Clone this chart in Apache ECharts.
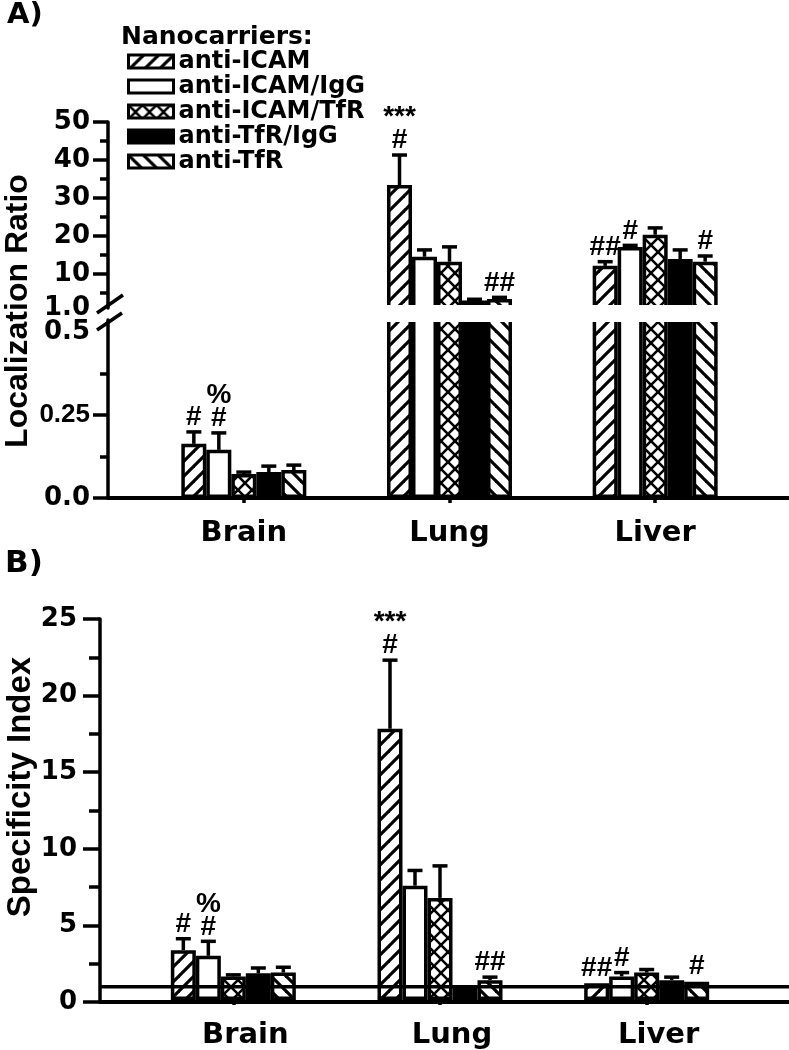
<!DOCTYPE html>
<html><head><meta charset="utf-8">
<script src="https://cdn.jsdelivr.net/npm/echarts@6/dist/echarts.min.js"></script>
<style>html,body{margin:0;padding:0;background:#fff}#c{width:789px;height:1050px}</style>
</head><body><div id="c"></div>
<script>
// ---------------- DATA ----------------
const categories = ['Brain', 'Lung', 'Liver'];
const carriers = ['anti-ICAM', 'anti-ICAM/IgG', 'anti-ICAM/TfR', 'anti-TfR/IgG', 'anti-TfR'];

// Panel A: Localization Ratio (mean) per carrier for Brain, Lung, Liver
const loc_antiICAM     = [0.163, 33.4, 12.1];
const loc_antiICAM_IgG = [0.145, 14.5, 17.1];
const loc_antiICAM_TfR = [0.072, 13.2, 20.3];
const loc_antiTfR_IgG  = [0.078, 3.0, 13.9];
const loc_antiTfR      = [0.084, 3.4, 13.2];
// Panel A: upper error (SEM)
const locErr_antiICAM     = [0.036, 7.9, 1.1];
const locErr_antiICAM_IgG = [0.051, 1.8, 0.4];
const locErr_antiICAM_TfR = [0.006, 3.9, 1.8];
const locErr_antiTfR_IgG  = [0.018, 0.3, 2.4];
const locErr_antiTfR      = [0.015, 0.4, 1.5];
// Panel A: significance marks
const locNote_antiICAM     = ['#', '***\n#', '##'];
const locNote_antiICAM_IgG = ['%\n#', '', '#'];
const locNote_antiICAM_TfR = ['', '', ''];
const locNote_antiTfR_IgG  = ['', '', ''];
const locNote_antiTfR      = ['', '##', '#'];

// Panel B: Specificity Index (mean)
const spec_antiICAM     = [3.27, 17.8, 1.1];
const spec_antiICAM_IgG = [2.9, 7.5, 1.55];
const spec_antiICAM_TfR = [1.55, 6.7, 1.8];
const spec_antiTfR_IgG  = [1.75, 0.9, 1.3];
const spec_antiTfR      = [1.8, 1.3, 1.2];
const specErr_antiICAM     = [0.75, 4.5, 0.05];
const specErr_antiICAM_IgG = [0.95, 1.0, 0.25];
const specErr_antiICAM_TfR = [0.1, 2.1, 0.2];
const specErr_antiTfR_IgG  = [0.35, 0.05, 0.2];
const specErr_antiTfR      = [0.35, 0.2, 0.05];
const specNote_antiICAM     = ['#', '***\n#', '##'];
const specNote_antiICAM_IgG = ['%\n#', '', '#'];
const specNote_antiICAM_TfR = ['', '', ''];
const specNote_antiTfR_IgG  = ['', '', ''];
const specNote_antiTfR      = ['', '##', '#'];
const specRefLine = 1;

// Axis scales / ticks
const locUpperRange = [1, 50];
const locUpperTicks = [10, 20, 30, 40, 50];
const locUpperMinorTicks = [5, 15, 25, 35, 45];
const locUpperLabels = [1, 10, 20, 30, 40, 50];
const locLowerRange = [0, 0.536];
const locLowerTicks = [0, 0.25];
const locLowerMinorTicks = [0.125, 0.375];
const locLowerLabels = [0, 0.25, 0.5];
const specRange = [0, 25];
const specInterval = 5;

// ---------------- LAYOUT / STYLE ----------------
const W = 789;
const BAR_W = 25;
const A_AXIS_LEFT = 108, A_BAR_LEFT = 141, A_BAR_RIGHT = 31;
const A_UP_TOP = 122, A_UP_BOTTOM = 308, A_LO_TOP = 320, A_LO_BOTTOM = 498;
const B_AXIS_LEFT = 100, B_BAR_LEFT = 130, B_BAR_RIGHT = 39, B_TOP = 619, B_BOTTOM = 1002;
const FONT = 'DejaVu Sans';

function makePattern(kind) {
  const s = kind === 'cross' ? 14 : 15;
  const c = document.createElement('canvas'); c.width = s; c.height = s;
  const g = c.getContext('2d');
  g.fillStyle = '#fff'; g.fillRect(0, 0, s, s);
  g.strokeStyle = '#000'; g.lineWidth = kind === 'cross' ? 2.6 : 3.2;
  for (const o of [-s, 0, s]) {
    if (kind === 'fwd' || kind === 'cross') { g.beginPath(); g.moveTo(o - 2, s + 2); g.lineTo(o + s + 2, -2); g.stroke(); }
    if (kind === 'back' || kind === 'cross') { g.beginPath(); g.moveTo(o - 2, -2); g.lineTo(o + s + 2, s + 2); g.stroke(); }
  }
  return { image: c, repeat: 'repeat' };
}
const fills = [makePattern('fwd'), '#ffffff', makePattern('cross'), '#000000', makePattern('back')];

const locMeans = [loc_antiICAM, loc_antiICAM_IgG, loc_antiICAM_TfR, loc_antiTfR_IgG, loc_antiTfR];
const locErrs = [locErr_antiICAM, locErr_antiICAM_IgG, locErr_antiICAM_TfR, locErr_antiTfR_IgG, locErr_antiTfR];
const locNotes = [locNote_antiICAM, locNote_antiICAM_IgG, locNote_antiICAM_TfR, locNote_antiTfR_IgG, locNote_antiTfR];
const specMeans = [spec_antiICAM, spec_antiICAM_IgG, spec_antiICAM_TfR, spec_antiTfR_IgG, spec_antiTfR];
const specErrs = [specErr_antiICAM, specErr_antiICAM_IgG, specErr_antiICAM_TfR, specErr_antiTfR_IgG, specErr_antiTfR];
const specNotes = [specNote_antiICAM, specNote_antiICAM_IgG, specNote_antiICAM_TfR, specNote_antiTfR_IgG, specNote_antiTfR];

const tickLabelStyle = { fontFamily: FONT, fontWeight: 'bold', fontSize: 26, color: '#000' };
const blackLine = { color: '#000', width: 3.5 };

function hiddenValueX(grid) { return { type: 'value', gridIndex: grid, min: 0, max: 1, show: false }; }
function lineValueX(grid) {
  return { type: 'value', gridIndex: grid, min: 0, max: 1, axisLine: { show: true, onZero: false, lineStyle: { color: '#000', width: 4 } },
    axisTick: { show: false }, axisLabel: { show: false }, splitLine: { show: false } };
}
function catX(grid, showLabels, labelShift) {
  return { type: 'category', gridIndex: grid, data: categories, show: showLabels,
    axisLine: { show: false }, axisTick: { show: true, alignWithLabel: true, length: 5, lineStyle: blackLine },
    axisLabel: { fontFamily: FONT, fontWeight: 'bold', fontSize: 29, color: '#000', margin: 21,
      padding: [0, 0, 0, labelShift || 0] } };
}
function hiddenY(grid, range) { return { type: 'value', gridIndex: grid, min: range[0], max: range[1], show: false }; }

function errItems(means, errs, notes, filter) {
  const items = [];
  means.forEach((arr, k) => arr.forEach((v, c) => {
    if (filter(v)) items.push({ cat: c, k: k, mean: v, top: v + errs[k][c], note: notes[k][c] });
  }));
  return items;
}
function errSeries(xi, yi, items) {
  return {
    type: 'custom', xAxisIndex: xi, yAxisIndex: yi, z: 5, silent: true,
    data: items.map(it => [it.cat, it.k, it.mean, it.top]),
    renderItem: function (params, api) {
      const it = items[params.dataIndex];
      const b = api.coord([api.value(0), api.value(2)]);
      const t = api.coord([api.value(0), api.value(3)]);
      const x = b[0] + (api.value(1) - 2) * BAR_W;
      const ch = [];
      if (b[1] - t[1] > 1) {
        ch.push({ type: 'line', shape: { x1: x, y1: b[1], x2: x, y2: t[1] }, style: { stroke: '#000', lineWidth: 3.5 } });
        ch.push({ type: 'line', shape: { x1: x - 7.5, y1: t[1], x2: x + 7.5, y2: t[1] }, style: { stroke: '#000', lineWidth: 3.5 } });
      }
      if (it.note) {
        ch.push({ type: 'text', x: x, y: t[1] - 3, style: { text: it.note, align: 'center', verticalAlign: 'bottom',
          font: 'bold 28px "Liberation Sans"', fill: '#000', lineHeight: 23 } });
      }
      return { type: 'group', children: ch };
    }
  };
}

const series = [];
carriers.forEach((name, k) => {
  const common = { type: 'bar', name: name, barWidth: BAR_W, barGap: '0%',
    itemStyle: { color: fills[k], borderColor: '#000', borderWidth: 3.5 }, z: 2, silent: true };
  series.push(Object.assign({}, common, { xAxisIndex: 2, yAxisIndex: 4,
    data: locMeans[k].map(v => v >= locUpperRange[0] ? v : null) }));
  series.push(Object.assign({}, common, { xAxisIndex: 3, yAxisIndex: 5, data: locMeans[k].slice() }));
  series.push(Object.assign({}, common, { xAxisIndex: 5, yAxisIndex: 7, data: specMeans[k].slice() }));
});
series.push(errSeries(2, 4, errItems(locMeans, locErrs, locNotes, v => v >= locUpperRange[0])));
series.push(errSeries(3, 5, errItems(locMeans, locErrs, locNotes, v => v < locUpperRange[0])));
series.push(errSeries(5, 7, errItems(specMeans, specErrs, specNotes, v => true)));
series.push({ type: 'line', xAxisIndex: 4, yAxisIndex: 6, z: 6, silent: true, symbol: 'none',
  data: [[0, specRefLine], [1, specRefLine]], lineStyle: { color: '#000', width: 3.5 } });

const option = {
  animation: false,
  backgroundColor: '#fff',
  legend: {
    data: carriers, orient: 'vertical', left: 122, top: 44, itemWidth: 45, itemHeight: 13, itemGap: 0,
    icon: 'rect', selectedMode: false,
    itemStyle: { borderColor: '#000', borderWidth: 3 },
    textStyle: { fontFamily: FONT, fontWeight: 'bold', fontSize: 24, color: '#000', lineHeight: 25 }
  },
  grid: [
    { left: A_AXIS_LEFT, right: 0, top: A_UP_TOP, height: A_UP_BOTTOM - A_UP_TOP },
    { left: A_AXIS_LEFT, right: 0, top: A_LO_TOP, height: A_LO_BOTTOM - A_LO_TOP },
    { left: A_BAR_LEFT, right: A_BAR_RIGHT, top: A_UP_TOP, height: A_UP_BOTTOM - A_UP_TOP },
    { left: A_BAR_LEFT, right: A_BAR_RIGHT, top: A_LO_TOP, height: A_LO_BOTTOM - A_LO_TOP },
    { left: B_AXIS_LEFT, right: 0, top: B_TOP, height: B_BOTTOM - B_TOP },
    { left: B_BAR_LEFT, right: B_BAR_RIGHT, top: B_TOP, height: B_BOTTOM - B_TOP }
  ],
  xAxis: [hiddenValueX(0), lineValueX(1), catX(2, false, 0), catX(3, true, 0), lineValueX(4), catX(5, true, 24)],
  yAxis: [
    { type: 'value', gridIndex: 0, position: 'left', min: locUpperRange[0], max: locUpperRange[1],
      axisLine: { show: true, lineStyle: blackLine }, splitLine: { show: false },
      axisTick: { show: true, length: 15, lineStyle: blackLine, customValues: locUpperTicks },
      axisLabel: Object.assign({}, tickLabelStyle, { margin: 18, customValues: locUpperLabels,
        formatter: v => (v === 1 ? '1.0' : String(v)) }) },
    { type: 'value', gridIndex: 0, position: 'left', min: locUpperRange[0], max: locUpperRange[1],
      axisLine: { show: false }, splitLine: { show: false }, axisLabel: { show: false },
      axisTick: { show: true, length: 8, lineStyle: blackLine, customValues: locUpperMinorTicks } },
    { type: 'value', gridIndex: 1, position: 'left', min: locLowerRange[0], max: locLowerRange[1],
      axisLine: { show: true, lineStyle: blackLine }, splitLine: { show: false },
      axisTick: { show: true, length: 15, lineStyle: blackLine, customValues: locLowerTicks },
      axisLabel: Object.assign({}, tickLabelStyle, { margin: 18, customValues: locLowerLabels,
        formatter: v => (v === 0.25 ? '{s|0.25}' : v.toFixed(1)),
        rich: { s: { fontFamily: 'Liberation Sans', fontWeight: 'bold', fontSize: 26, color: '#000' } } }) },
    { type: 'value', gridIndex: 1, position: 'left', min: locLowerRange[0], max: locLowerRange[1],
      axisLine: { show: false }, splitLine: { show: false }, axisLabel: { show: false },
      axisTick: { show: true, length: 8, lineStyle: blackLine, customValues: locLowerMinorTicks } },
    hiddenY(2, locUpperRange),
    hiddenY(3, locLowerRange),
    { type: 'value', gridIndex: 4, position: 'left', min: specRange[0], max: specRange[1], interval: specInterval,
      axisLine: { show: true, lineStyle: blackLine }, splitLine: { show: false },
      axisTick: { show: true, length: 17, lineStyle: blackLine },
      minorTick: { show: true, splitNumber: 2, length: 11, lineStyle: blackLine },
      axisLabel: Object.assign({}, tickLabelStyle, { margin: 23 }) },
    hiddenY(5, specRange)
  ],
  series: series,
  graphic: { elements: [
    { type: 'text', left: 7, top: 1, z: 20, style: { text: 'A)', font: 'bold 29px "DejaVu Sans"', fill: '#000' } },
    { type: 'text', left: 5, top: 548, z: 20, style: { text: 'B)', font: 'bold 31px "DejaVu Sans"', fill: '#000' } },
    { type: 'text', left: 121, top: 25, z: 20, style: { text: 'Nanocarriers:', font: 'bold 25px "DejaVu Sans"', fill: '#000' } },
    { type: 'text', x: 18, y: 311, rotation: Math.PI / 2, z: 20,
      style: { text: 'Localization Ratio', font: 'bold 32px "Liberation Sans"', fill: '#000', align: 'center', verticalAlign: 'middle' } },
    { type: 'text', x: 21, y: 787, rotation: Math.PI / 2, z: 20,
      style: { text: 'Specificity Index', font: 'bold 33px "Liberation Sans"', fill: '#000', align: 'center', verticalAlign: 'middle' } },
    { type: 'rect', z: 30, shape: { x: A_AXIS_LEFT + 2, y: A_UP_BOTTOM - 3, width: W, height: (A_LO_TOP + 2) - (A_UP_BOTTOM - 3) },
      style: { fill: '#fff' } },
    { type: 'line', z: 40, shape: { x1: 97, y1: 313, x2: 123, y2: 295 }, style: { stroke: '#000', lineWidth: 3.5 } },
    { type: 'line', z: 40, shape: { x1: 97, y1: 330, x2: 122, y2: 313 }, style: { stroke: '#000', lineWidth: 3.5 } }
  ] }
};

const chart = echarts.init(document.getElementById('c'), null, { renderer: 'canvas' });
chart.setOption(option);
</script>
</body></html>
